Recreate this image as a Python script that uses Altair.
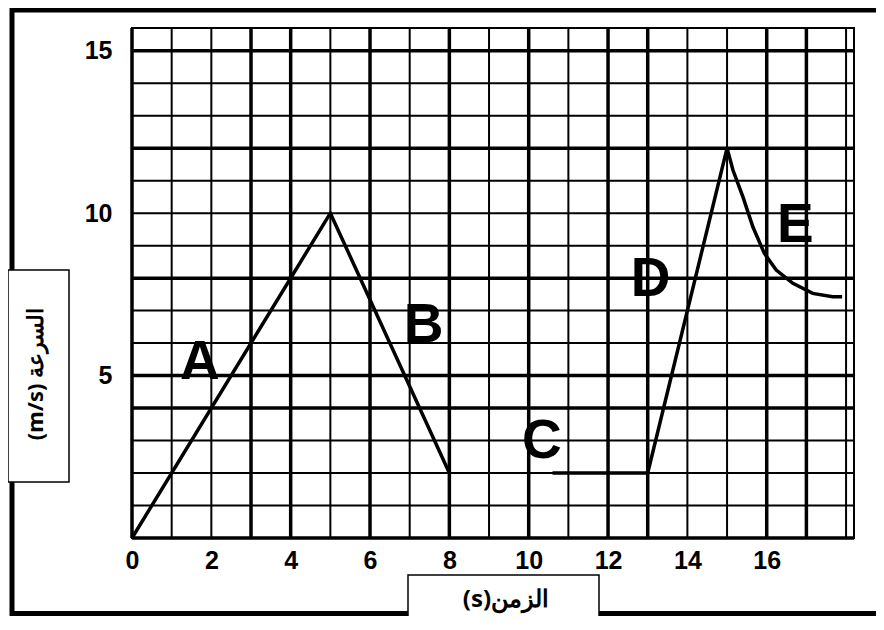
import altair as alt
import pandas as pd

# ---- data ----
seg_ab_x = [0, 5, 8]
seg_ab_y = [0, 10, 2]
seg_cde_x = [10.6, 13, 15, 15.15, 15.4, 15.65, 15.94, 16.24, 16.66, 17.16, 17.66, 17.9]
seg_cde_y = [2, 2, 12, 11.32, 10.5, 9.58, 8.76, 8.25, 7.84, 7.53, 7.43, 7.43]

letters = ["A", "B", "C", "D", "E"]
letter_x = [1.71, 7.35, 10.33, 13.07, 16.72]
letter_y = [5.42, 6.55, 2.98, 7.97, 9.63]

x_ticks = [0, 2, 4, 6, 8, 10, 12, 14, 16]
y_ticks = [5, 10, 15]

grid_x_thick = [0, 3, 4, 6, 8, 10, 12, 13, 16, 17]
grid_x_thin = [1, 2, 5, 7, 9, 11, 14, 15, 18]
grid_y_thick = [0, 4, 5, 8, 12, 15]
grid_y_thin = [1, 2, 3, 6, 7, 9, 10, 11, 13, 14]

y_title = "(m/s) السرعة"
x_title = "(s)الزمن"

X_DOMAIN = [0, 18.2]
Y_DOMAIN = [0, 15.7]

# ---- tables ----
curve = pd.DataFrame({
    "t": seg_ab_x + seg_cde_x,
    "v": seg_ab_y + seg_cde_y,
    "seg": ["AB"] * len(seg_ab_x) + ["CDE"] * len(seg_cde_x),
    "i": list(range(len(seg_ab_x))) + list(range(len(seg_cde_x))),
})
lab = pd.DataFrame({"txt": letters, "t": letter_x, "v": letter_y})
gx = pd.DataFrame({"t": grid_x_thick + grid_x_thin,
                   "w": [3.5] * len(grid_x_thick) + [2] * len(grid_x_thin)})
gy = pd.DataFrame({"v": grid_y_thick + grid_y_thin,
                   "w": [3.5] * len(grid_y_thick) + [2] * len(grid_y_thin)})
one = pd.DataFrame({"k": [0]})

xs = alt.Scale(domain=X_DOMAIN, nice=False, zero=False)
ys = alt.Scale(domain=Y_DOMAIN, nice=False, zero=False)
xa = alt.Axis(values=x_ticks, title=None, labelPadding=10, labelFontSize=25,
              labelFontWeight="bold", labelFont="Liberation Sans", labelColor="black",
              grid=False, domain=False, ticks=False, labelFlush=False)
ya = alt.Axis(values=y_ticks, title=None, labelPadding=20, labelFontSize=25,
              labelFontWeight="bold", labelFont="Liberation Sans", labelColor="black",
              grid=False, domain=False, ticks=False)


def X(f):
    return alt.X(f, type="quantitative", scale=xs, axis=xa)


def Y(f):
    return alt.Y(f, type="quantitative", scale=ys, axis=ya)


frame = alt.Chart(one).mark_rect(fillOpacity=0, stroke="black", strokeWidth=5).encode(
    x=alt.value(-120), x2=alt.value(760), y=alt.value(-18), y2=alt.value(585.5)
)

vgrid = alt.Chart(gx).mark_rule(color="black").encode(
    x=X("t"), strokeWidth=alt.StrokeWidth("w:Q", scale=None)
)
hgrid = alt.Chart(gy).mark_rule(color="black").encode(
    y=Y("v"), strokeWidth=alt.StrokeWidth("w:Q", scale=None)
)

lines = alt.Chart(curve).mark_line(color="black", strokeWidth=3.5).encode(
    x=X("t"), y=Y("v"), detail="seg:N", order="i:Q"
)

letter_marks = alt.Chart(lab).mark_text(
    font="Liberation Sans", fontWeight="bold", fontSize=55, color="black",
    align="center", baseline="middle"
).encode(x=X("t"), y=Y("v"), text="txt:N")

ybox = alt.Chart(one).mark_rect(fill="white", stroke="black", strokeWidth=1.5).encode(
    x=alt.value(-124), x2=alt.value(-63), y=alt.value(242), y2=alt.value(454)
)
ytext = alt.Chart(one).mark_text(
    text=y_title, angle=270, font="Noto Sans", fontWeight="bold", fontSize=22,
    color="black", align="center", baseline="middle"
).encode(x=alt.value(-96), y=alt.value(346))

xbox = alt.Chart(one).mark_rect(fill="white", stroke="black", strokeWidth=1.5).encode(
    x=alt.value(276), x2=alt.value(467), y=alt.value(547), y2=alt.value(620)
)
xtext = alt.Chart(one).mark_text(
    text=x_title, font="Noto Sans", fontWeight="bold", fontSize=24,
    color="black", align="center", baseline="middle"
).encode(x=alt.value(374), y=alt.value(572))

chart = alt.layer(
    frame, vgrid, hgrid, lines, letter_marks, ybox, ytext, xbox, xtext
).properties(
    width=722, height=510,
    autosize=alt.AutoSizeParams(type="none"),
    padding={"left": 124, "top": 20, "right": 22, "bottom": 78},
    background="white",
).configure_view(stroke="black", strokeWidth=2)

chart.save("out.html", embed_options={"renderer": "svg", "actions": False})
